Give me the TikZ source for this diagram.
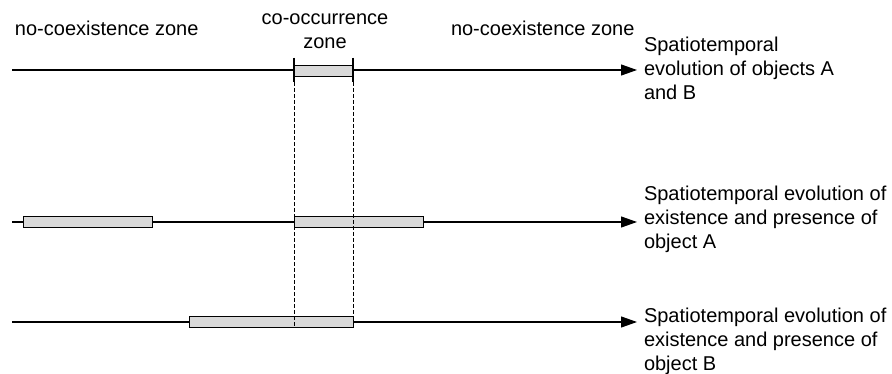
\documentclass[tikz,border=0pt]{standalone}
\usepackage{fontspec}
\setmainfont{Liberation Sans}
\usetikzlibrary{arrows.meta}
\begin{document}
\begin{tikzpicture}[x=1pt,y=-1pt,
  every node/.style={inner sep=0pt,outer sep=0pt,font=\fontsize{20}{24}\selectfont},
  axis/.style={line width=1.2pt,-{Triangle[length=16pt,width=11pt]}},
  span/.style={draw,line width=1pt,fill=black!15,minimum height=11pt,anchor=west},
  label/.style={anchor=base west,align=left},
  guide/.style={line width=0.9pt,dash pattern=on 4pt off 2pt},
  tick/.style={line width=1.2pt}]
\useasboundingbox (0,0) rectangle (892,374);

% zone headings (base anchor sits on the last line)
\node[label] (nz1) at (15,36) {no-coexistence zone};
\node[anchor=base,align=center] (cz) at (325,49) {co-occurrence\\zone};
\node[label] (nz2) at (451,36) {no-coexistence zone};

% row 1: objects A and B
\coordinate (s1) at (12,70);
\coordinate (e1) at (637,70);
\draw[axis] (s1) -- (e1);
\node[span,minimum width=59pt] (b1) at (294,71) {};
\node[label] (t1) at (644,100) {Spatiotemporal\\evolution of objects A\\and B};

% row 2: object A
\coordinate (s2) at (12,222);
\coordinate (e2) at (637,222);
\draw[axis] (s2) -- (e2);
\node[span,minimum width=129pt] (a1) at (23,222) {};
\node[span,minimum width=129pt] (a2) at (294,222) {};
\node[label] (t2) at (644,249) {Spatiotemporal evolution of\\existence and presence of\\object A};

% row 3: object B
\coordinate (s3) at (12,322);
\coordinate (e3) at (637,322);
\draw[axis] (s3) -- (e3);
\node[span,minimum width=164pt] (c1) at (189,322) {};
\node[label] (t3) at (644,370) {Spatiotemporal evolution of\\existence and presence of\\object B};

% co-occurrence bounds
\coordinate (ga) at (294,58);
\coordinate (gb) at (353,58);
\coordinate (ha) at (294,327);
\coordinate (hb) at (353,327);
\draw[tick] (ga) -- ++(0,24);
\draw[tick] (gb) -- ++(0,24);
\draw[guide] (ga) -- (ha);
\draw[guide] (gb) -- (hb);
\end{tikzpicture}
\end{document}
